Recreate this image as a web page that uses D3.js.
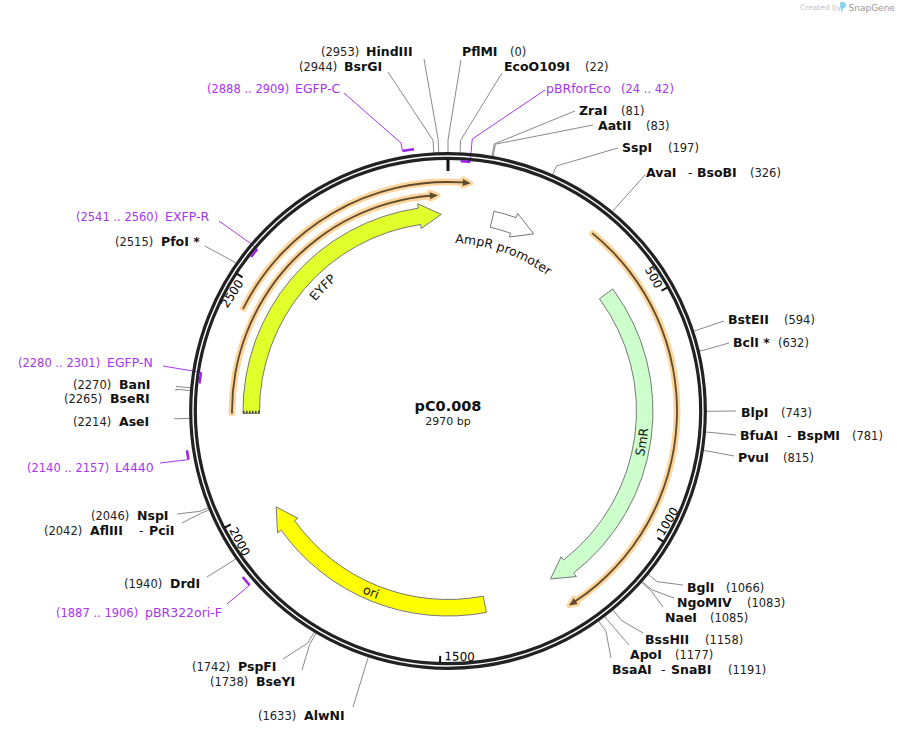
<!DOCTYPE html>
<html>

<head>
    <meta charset="utf-8" />
    <title>pC0.008</title>
    <script src="https://d3js.org/d3.v7.min.js"></script>
    <style>
        html, body { margin: 0; padding: 0; background: #fff; }
        svg { display: block; }
        text { font-family: "DejaVu Sans", Verdana, sans-serif; }
    </style>
</head>

<body>
    <div id="map"></div>
<script>
    // plasmid
    const plasmidName = "pC0.008";
    const plasmidLength = 2970;
    const tickValues = [500, 1000, 1500, 2000, 2500];

    // restriction sites
    const siteNames = ["HindIII", "BsrGI", "PflMI", "EcoO109I", "ZraI", "AatII", "SspI", "AvaI", "BstEII", "BclI *", "BlpI", "BfuAI", "PvuI", "BglI", "NgoMIV", "NaeI", "BssHII", "ApoI", "BsaAI", "AlwNI", "BseYI", "PspFI", "DrdI", "AflIII", "NspI", "AseI", "BseRI", "BanI", "PfoI *"];
    const sitePositions = [2953, 2944, 0, 22, 81, 83, 197, 326, 594, 632, 743, 781, 815, 1066, 1083, 1085, 1158, 1177, 1191, 1633, 1738, 1742, 1940, 2042, 2046, 2214, 2265, 2270, 2515];
    const secondNames = { AvaI: "BsoBI", BfuAI: "BspMI", BsaAI: "SnaBI", AflIII: "PciI" };

    // primers
    const primerNames = ["EGFP-C", "pBRforEco", "EXFP-R", "EGFP-N", "L4440", "pBR322ori-F"];
    const primerStarts = [2888, 24, 2541, 2280, 2140, 1887];
    const primerEnds = [2909, 42, 2560, 2301, 2157, 1906];

    // features
    const featureNames = ["EYFP", "AmpR promoter", "SmR", "ori"];
    const featureStarts = [2222, 107, 441, 1396];
    const featureTips = [2954, 213, 1226, 1987];
    const featureColors = ["#e0ff2b", "#ffffff", "#ccffcc", "#ffff00"];

    // orange arrows
    const primerArcStarts = [322, 2446, 2222];
    const primerArcTips = [1222, 3017, 2948];

    // label layout, same order as the lists above: [position x, name x, y, leader end x, leader end y, elbow r]
    const siteLayout = [
        [321, 366, 52, 424, 59, 271], [299, 344, 67, 388, 72, 271], [510, 462, 52, 461, 60, 271], [585, 504, 67, 502, 73, 271],
        [621, 579, 111, 575, 111, 271], [646, 598, 126, 593, 125, 271], [668, 622, 148, 618, 148, 268], [750, 646, 173, 645, 175, 262],
        [784, 728, 320, 724, 321, 264], [778, 733, 343, 729, 343, 264], [781, 741, 413, 736, 411, 266], [852, 740, 436, 736, 435, 266],
        [783, 738, 458, 734, 456, 266], [726, 687, 588, 683, 585, 270], [747, 677, 603, 674, 598, 271], [710, 665, 618, 663, 607, 271],
        [705, 645, 640, 643, 633, 272], [675, 630, 655, 629, 645, 262], [728, 612, 670, 611, 658, 271], [258, 304, 716, 353, 707, 262],
        [210, 256, 682, 302, 670, 271], [192, 238, 667, 283, 659, 271], [124, 170, 584, 207, 577, 262], [44, 90, 531, 182, 523, 268],
        [91, 137, 516, 177, 514, 268], [73, 119, 422, 174, 418, 273], [64, 110, 399, 176, 391, 273], [73, 119, 385, 177, 386, 273],
        [115, 161, 242, 205, 246, 262]
    ];
    const secondX = { AvaI: [688, 697], BfuAI: [787, 797], BsaAI: [661, 671], AflIII: [139, 149] };
    // [position x, name x, y, leader end x, leader end y, elbow r, mark r, leader leaves from primer end (1) or start (0)]
    const primerLayout = [
        [207, 295, 89, 344, 93, 272, 264, 0], [621, 546, 89, 545, 90, 273, 250, 1], [76, 165, 217, 219, 221, 260, 250, 1],
        [18, 107, 363, 163, 366, 260, 250, 1], [27, 115, 468, 160, 463, 264, 264, 0], [56, 145, 613, 227, 604, 264, 264, 0]
    ];

    const width = 897, height = 734;
    const cx = 448, cy = 411;
    const purple = "#a835ee", purpleMark = "#9b22e6", ringColor = "#222";

    const svg = d3.select("#map").append("svg")
        .attr("width", width)
        .attr("height", height);

    const angle = d3.scaleLinear().domain([0, plasmidLength]).range([0, 2 * Math.PI]);

    // point at radius r for a bp position, in page coordinates
    function polar(bp, r) {
        const a = angle(bp);
        return [cx + r * Math.sin(a), cy - r * Math.cos(a)];
    }

    // canvas style angle for d3.path arcs
    const canvasAngle = bp => angle(bp) - Math.PI / 2;

    function arrowPath(start, tip, rIn, rOut, headIn, headOut, headLen) {
        const rMid = (rIn + rOut) / 2;
        const dir = tip > start ? 1 : -1;
        const base = tip - dir * angle.invert(headLen / rMid);
        const p = d3.path();
        p.moveTo(...polar(start, rOut));
        p.arc(cx, cy, rOut, canvasAngle(start), canvasAngle(base), dir < 0);
        p.lineTo(...polar(base, headOut));
        p.lineTo(...polar(tip, rMid));
        p.lineTo(...polar(base, headIn));
        p.lineTo(...polar(base, rIn));
        p.arc(cx, cy, rIn, canvasAngle(base), canvasAngle(start), dir > 0);
        p.closePath();
        return p.toString();
    }

    function arcOnly(start, end, r) {
        const p = d3.path();
        p.moveTo(...polar(start, r));
        p.arc(cx, cy, r, canvasAngle(start), canvasAngle(end), end < start);
        return p.toString();
    }

    // leaders go under the ring
    const leaderLayer = svg.append("g");

    // ring
    svg.selectAll("circle.ring")
        .data([257.3, 252.7])
        .join("circle")
        .attr("class", "ring")
        .attr("cx", cx)
        .attr("cy", cy)
        .attr("r", d => d)
        .attr("fill", "none")
        .attr("stroke", ringColor)
        .attr("stroke-width", 3.2);

    // ticks
    svg.append("line")
        .attr("x1", polar(0, 252)[0]).attr("y1", polar(0, 252)[1])
        .attr("x2", polar(0, 240)[0]).attr("y2", polar(0, 240)[1])
        .attr("stroke", "#111").attr("stroke-width", 3);

    svg.selectAll("line.tick")
        .data(tickValues)
        .join("line")
        .attr("class", "tick")
        .attr("x1", d => polar(d, 252)[0]).attr("y1", d => polar(d, 252)[1])
        .attr("x2", d => polar(d, 245)[0]).attr("y2", d => polar(d, 245)[1])
        .attr("stroke", "#111").attr("stroke-width", 2);

    svg.selectAll("text.tick")
        .data(tickValues)
        .join("text")
        .attr("class", "tick")
        .attr("font-size", 12)
        .attr("dy", "0.35em")
        .attr("text-anchor", d => (d < 742 || d > 2227) ? "end" : "start")
        .attr("transform", d => {
            const deg = angle(d) * 180 / Math.PI;
            const rot = (deg < 90 || deg > 270) ? deg : deg - 180;
            const [x, y] = polar(d - 2, 245);
            // text sits just before the tick, going backwards round the ring
            const off = (d < 742 || d > 2227) ? -3 : 3;
            return `translate(${x},${y}) rotate(${rot}) translate(${off},0)`;
        })
        .text(d => d);

    // orange arrows
    const orange = svg.append("g");
    primerArcStarts.forEach((s, i) => {
        const r = [229, 229, 216][i];
        const d = arrowPath(s, primerArcTips[i], r - 0.9, r + 0.9, r - 3.5, r + 3.5, 8);
        orange.append("path")
            .attr("d", d)
            .attr("fill", "#fdd49b")
            .attr("stroke", "#fdd49b")
            .attr("stroke-width", 5)
            .attr("stroke-linejoin", "round");
        orange.append("path")
            .attr("d", d)
            .attr("fill", "#5f4b2e");
    });

    // feature arrows
    svg.selectAll("path.feature")
        .data(featureNames)
        .join("path")
        .attr("class", "feature")
        .attr("d", (d, i) => arrowPath(featureStarts[i], featureTips[i], 188.5, 205, 184.5, 209.5, 22))
        .attr("fill", (d, i) => featureColors[i])
        .attr("stroke", "#777")
        .attr("stroke-width", 1);

    // hatch at the start of EYFP
    svg.append("line")
        .attr("x1", polar(featureStarts[0], 205)[0]).attr("y1", polar(featureStarts[0], 205)[1] - 1)
        .attr("x2", polar(featureStarts[0], 188.5)[0]).attr("y2", polar(featureStarts[0], 188.5)[1] - 1)
        .attr("stroke", "#444")
        .attr("stroke-width", 3)
        .attr("stroke-dasharray", "1.5 1.5");

    // feature names follow the curve
    const curveText = [
        { i: 0, a: 2495, b: 2695, r: 172 },
        { i: 1, a: 20, b: 300, r: 168 },
        { i: 2, a: 917, b: 717, r: 201 },
        { i: 3, a: 1765, b: 1585, r: 201 }
    ];
    const defs = svg.append("defs");
    curveText.forEach(c => {
        defs.append("path")
            .attr("id", "curve" + c.i)
            .attr("d", arcOnly(c.a, c.b, c.r));
        svg.append("text")
            .attr("font-size", 12.5)
            .attr("text-anchor", "middle")
            .attr("fill", "#111")
            .append("textPath")
            .attr("href", "#curve" + c.i)
            .attr("startOffset", "50%")
            .text(featureNames[c.i]);
    });

    // site leaders and labels
    const leader = d3.line();
    siteNames.forEach((name, i) => {
        const [posX, nameX, y, endX, endY, elbow] = siteLayout[i];
        leaderLayer.append("path")
            .attr("d", leader([polar(sitePositions[i], 258), polar(sitePositions[i], elbow), [endX, endY]]))
            .attr("fill", "none")
            .attr("stroke", "#8a8a8a")
            .attr("stroke-width", 1);
        svg.append("text")
            .attr("x", nameX).attr("y", y).attr("dy", "0.35em")
            .attr("font-size", 12.5).attr("font-weight", "bold").attr("fill", "#111")
            .text(name);
        svg.append("text")
            .attr("x", posX).attr("y", y).attr("dy", "0.35em")
            .attr("font-size", 11.5).attr("fill", "#222")
            .text(`(${sitePositions[i]})`);
        if (secondNames[name]) {
            svg.append("text")
                .attr("x", secondX[name][0]).attr("y", y).attr("dy", "0.35em")
                .attr("font-size", 12.5).attr("fill", "#111")
                .text("-");
            svg.append("text")
                .attr("x", secondX[name][1]).attr("y", y).attr("dy", "0.35em")
                .attr("font-size", 12.5).attr("font-weight", "bold").attr("fill", "#111")
                .text(secondNames[name]);
        }
    });

    // primers
    primerNames.forEach((name, i) => {
        const [posX, nameX, y, endX, endY, elbow, markR, useEnd] = primerLayout[i];
        const from = useEnd ? primerEnds[i] : primerStarts[i];
        svg.append("path")
            .attr("d", arcOnly(primerStarts[i], primerEnds[i], markR))
            .attr("fill", "none")
            .attr("stroke", purpleMark)
            .attr("stroke-width", 2.5);
        leaderLayer.append("path")
            .attr("d", leader([polar(from, markR), polar(from, elbow), [endX, endY]]))
            .attr("fill", "none")
            .attr("stroke", purple)
            .attr("stroke-width", 1);
        svg.append("text")
            .attr("x", nameX).attr("y", y).attr("dy", "0.35em")
            .attr("font-size", 12.5).attr("fill", purple)
            .text(name);
        svg.append("text")
            .attr("x", posX).attr("y", y).attr("dy", "0.35em")
            .attr("font-size", 11.5).attr("fill", purple)
            .text(`(${primerStarts[i]} .. ${primerEnds[i]})`);
    });

    // centre title
    svg.append("text")
        .attr("x", cx).attr("y", 411)
        .attr("text-anchor", "middle")
        .attr("font-size", 14.5).attr("font-weight", "bold").attr("fill", "#111")
        .text(plasmidName);
    svg.append("text")
        .attr("x", cx).attr("y", 425)
        .attr("text-anchor", "middle")
        .attr("font-size", 11).attr("fill", "#222")
        .text(`${plasmidLength} bp`);

    // logo
    svg.append("text")
        .attr("x", 800).attr("y", 10)
        .attr("font-size", 7.5).attr("fill", "#c4c4c4")
        .text("Created by");
    svg.append("path")
        .attr("d", "M840 2 h3 q3 0 3 3 q0 3 -3 3.5 l-1 4.5 q-2 -4 -2 -11 z")
        .attr("fill", "#8fd0ef");
    svg.append("text")
        .attr("x", 848.5).attr("y", 11)
        .attr("font-size", 9).attr("fill", "#9a9a9a")
        .text("SnapGene");
</script>
</body>

</html>
